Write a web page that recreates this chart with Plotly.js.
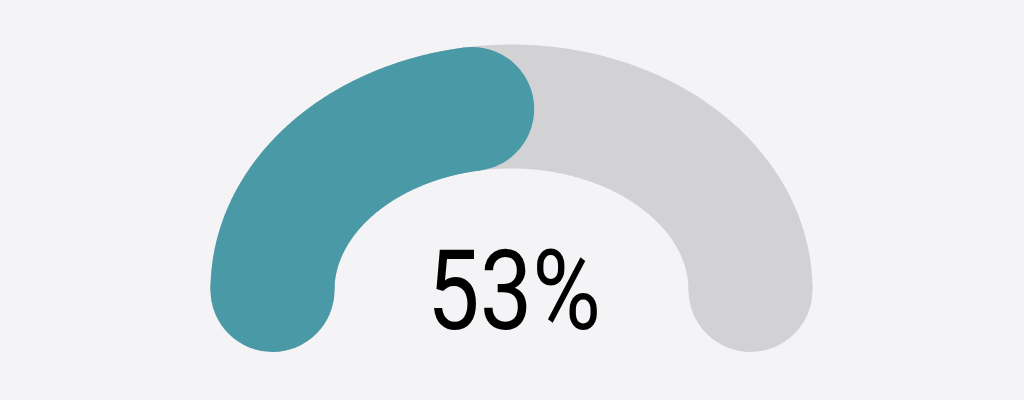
<!DOCTYPE html>
<html>
<head>
<meta charset="utf-8">
<script src="https://cdn.plot.ly/plotly-3.0.1.min.js"></script>
<style>
html,body{margin:0;padding:0;background:#f4f3f6;}
#chart{width:1024px;height:400px;}
</style>
</head>
<body>
<div id="chart"></div>
<script>
// ---- data ----
const gaugeValue = [53];
const gaugeMax = [100];
const labelText = ["53%"];
const colors = ["#4a99a7", "#d2d2d5"];

// ---- geometry (derived from the value) ----
const RX = 239, BAND = 124;          // px: mid-radius horizontally, band thickness
const capAngleDeg = (BAND / 2) / RX * 180 / Math.PI;  // angular size of a round cap at the top

function arc(fromDeg, toDeg, n) {
  const xs = [], ys = [];
  for (let i = 0; i <= n; i++) {
    const a = (fromDeg + (toDeg - fromDeg) * i / n) * Math.PI / 180;
    xs.push(Math.cos(a)); ys.push(Math.sin(a));
  }
  return {x: xs, y: ys};
}

const frac = gaugeValue[0] / gaugeMax[0];
const endFromLeft = Math.max(0, frac * 180 - capAngleDeg);
const track = arc(180, 0, 360);
const fill = arc(180, 180 - endFromLeft, 240);

function band(a, color) {
  return [
    {type: 'scatter', mode: 'lines', x: a.x, y: a.y, hoverinfo: 'skip',
     line: {color: color, width: BAND, shape: 'spline', smoothing: 0.6, simplify: false}},
    {type: 'scatter', mode: 'markers', x: [a.x[0], a.x[a.x.length - 1]], y: [a.y[0], a.y[a.y.length - 1]],
     hoverinfo: 'skip', marker: {color: color, size: BAND, line: {width: 0}}}
  ];
}

const data = [...band(track, colors[1]), ...band(fill, colors[0])];

const layout = {
  width: 1024, height: 400,
  margin: {l: 0, r: 0, t: 0, b: 0},
  paper_bgcolor: '#f4f3f6', plot_bgcolor: '#f4f3f6',
  showlegend: false,
  xaxis: {range: [-511.5 / RX, (1024 - 511.5) / RX], visible: false, fixedrange: true},
  yaxis: {range: [(290 - 400) / 183.5, 290 / 183.5], visible: false, fixedrange: true},
  annotations: [{
    x: 0.01, y: 0.0, xref: 'x', yref: 'y', showarrow: false,
    text: labelText[0], xanchor: 'center', yanchor: 'middle',
    font: {family: 'Roboto, sans-serif', size: 112, color: '#000000'}
  }]
};

Plotly.newPlot('chart', data, layout, {staticPlot: true, displayModeBar: false}).then(function (gd) {
  // condense the label to the narrow width of the reference
  gd.querySelectorAll('.annotation-text').forEach(function (t) {
    t.setAttribute('textLength', '174');
    t.setAttribute('lengthAdjust', 'spacingAndGlyphs');
  });
});
</script>
</body>
</html>
